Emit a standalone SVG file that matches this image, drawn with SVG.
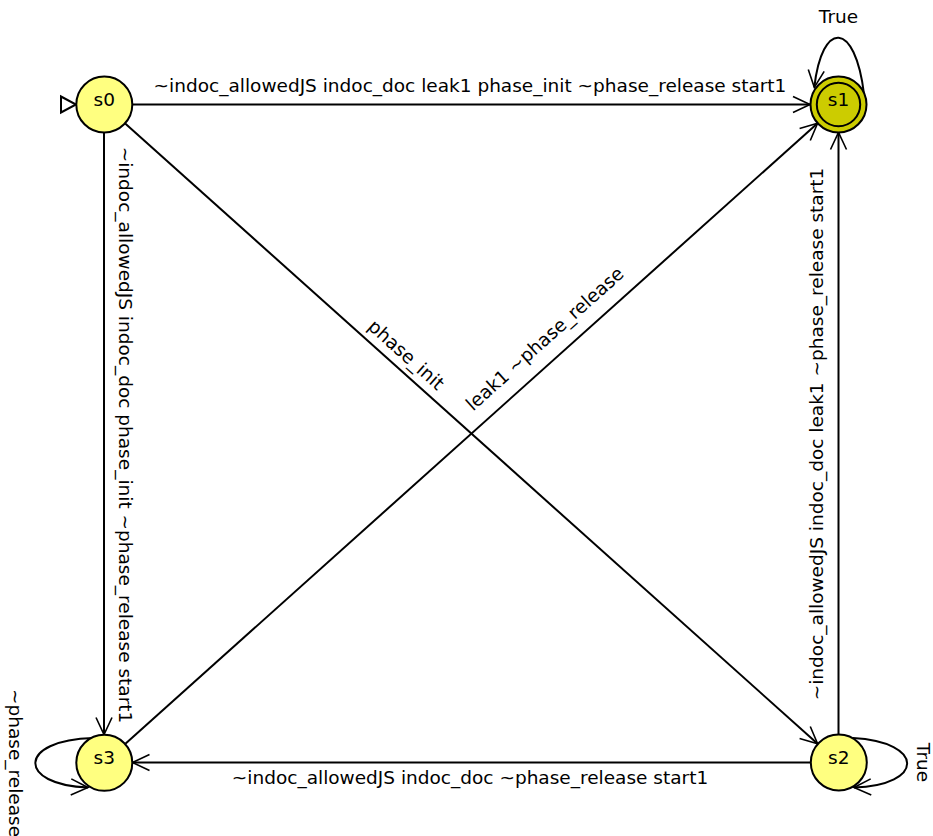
<svg xmlns="http://www.w3.org/2000/svg" width="933" height="836" viewBox="0 0 933 836">
<style>
  .bg { fill: #ffffff; }
  .node { stroke: #000000; stroke-width: 2; }
  .plain { fill: #ffff80; }
  .accept { fill: #cccc00; }
  .edge { fill: none; stroke: #000000; stroke-width: 2; }
  text { font-family: "DejaVu Sans", "Liberation Sans", sans-serif; font-size: 18.5px; fill: #000000; text-anchor: middle; }
</style>
<defs>
  <marker id="arr" markerUnits="userSpaceOnUse" markerWidth="40" markerHeight="40" refX="0" refY="0" orient="auto" viewBox="-20 -20 40 40" overflow="visible">
    <path d="M -17 -8 L 0 0 L -17 8" fill="none" stroke="#000000" stroke-width="1.6"/>
  </marker>
</defs>
<rect class="bg" x="0" y="0" width="933" height="836"/>
<g id="connectors">
  <polygon points="61,96.5 76,104.5 61,112.5" fill="#ffffff" stroke="#000000" stroke-width="2"/>
  <line class="edge" x1="132" y1="104.5" x2="810" y2="104.5" marker-end="url(#arr)"/>
  <line class="edge" x1="104" y1="132.5" x2="104" y2="734.5" marker-end="url(#arr)"/>
  <line class="edge" x1="124.9" y1="123.2" x2="817.6" y2="743.8" marker-end="url(#arr)"/>
  <line class="edge" x1="125.4" y1="743.8" x2="817.6" y2="123.2" marker-end="url(#arr)"/>
  <line class="edge" x1="838.5" y1="734.5" x2="838.5" y2="132.5" marker-end="url(#arr)"/>
  <line class="edge" x1="810.5" y1="762.5" x2="132.5" y2="762.5" marker-end="url(#arr)"/>
  <path class="edge" d="M 864 94 C 855 20, 822 20, 814.3 87.3" marker-end="url(#arr)"/>
  <path class="edge" d="M 853 738 C 925 742, 925 785, 854 787.5" marker-end="url(#arr)"/>
  <path class="edge" d="M 93 738 C 17 740, 17 785, 88 787.5" marker-end="url(#arr)"/>
  <text x="470" y="92">~indoc_allowedJS indoc_doc leak1 phase_init ~phase_release start1</text>
  <text transform="translate(119,435) rotate(90)">~indoc_allowedJS indoc_doc phase_init ~phase_release start1</text>
  <text transform="translate(402,359.5) rotate(41.85)">phase_init</text>
  <text transform="translate(549,343.5) rotate(-41.85)">leak1 ~phase_release</text>
  <text transform="translate(823,434) rotate(-90)">~indoc_allowedJS indoc_doc leak1 ~phase_release start1</text>
  <text x="470" y="784">~indoc_allowedJS indoc_doc ~phase_release start1</text>
  <text x="838.5" y="23">True</text>
  <text transform="translate(917,762.5) rotate(90)">True</text>
  <text transform="translate(9,763) rotate(90)">~phase_release</text>
</g>
<g id="s0">
  <circle class="node plain" cx="104.3" cy="104.5" r="28"/>
  <text x="104.3" y="106">s0</text>
</g>
<g id="s1">
  <circle class="node accept" cx="838.5" cy="104.5" r="28"/>
  <circle class="node accept" cx="838.5" cy="104.5" r="21.7"/>
  <text x="838.5" y="106">s1</text>
</g>
<g id="s2">
  <circle class="node plain" cx="838.8" cy="762.5" r="28"/>
  <text x="838.8" y="764">s2</text>
</g>
<g id="s3">
  <circle class="node plain" cx="104.3" cy="762.8" r="28"/>
  <text x="104.3" y="764">s3</text>
</g>
</svg>
